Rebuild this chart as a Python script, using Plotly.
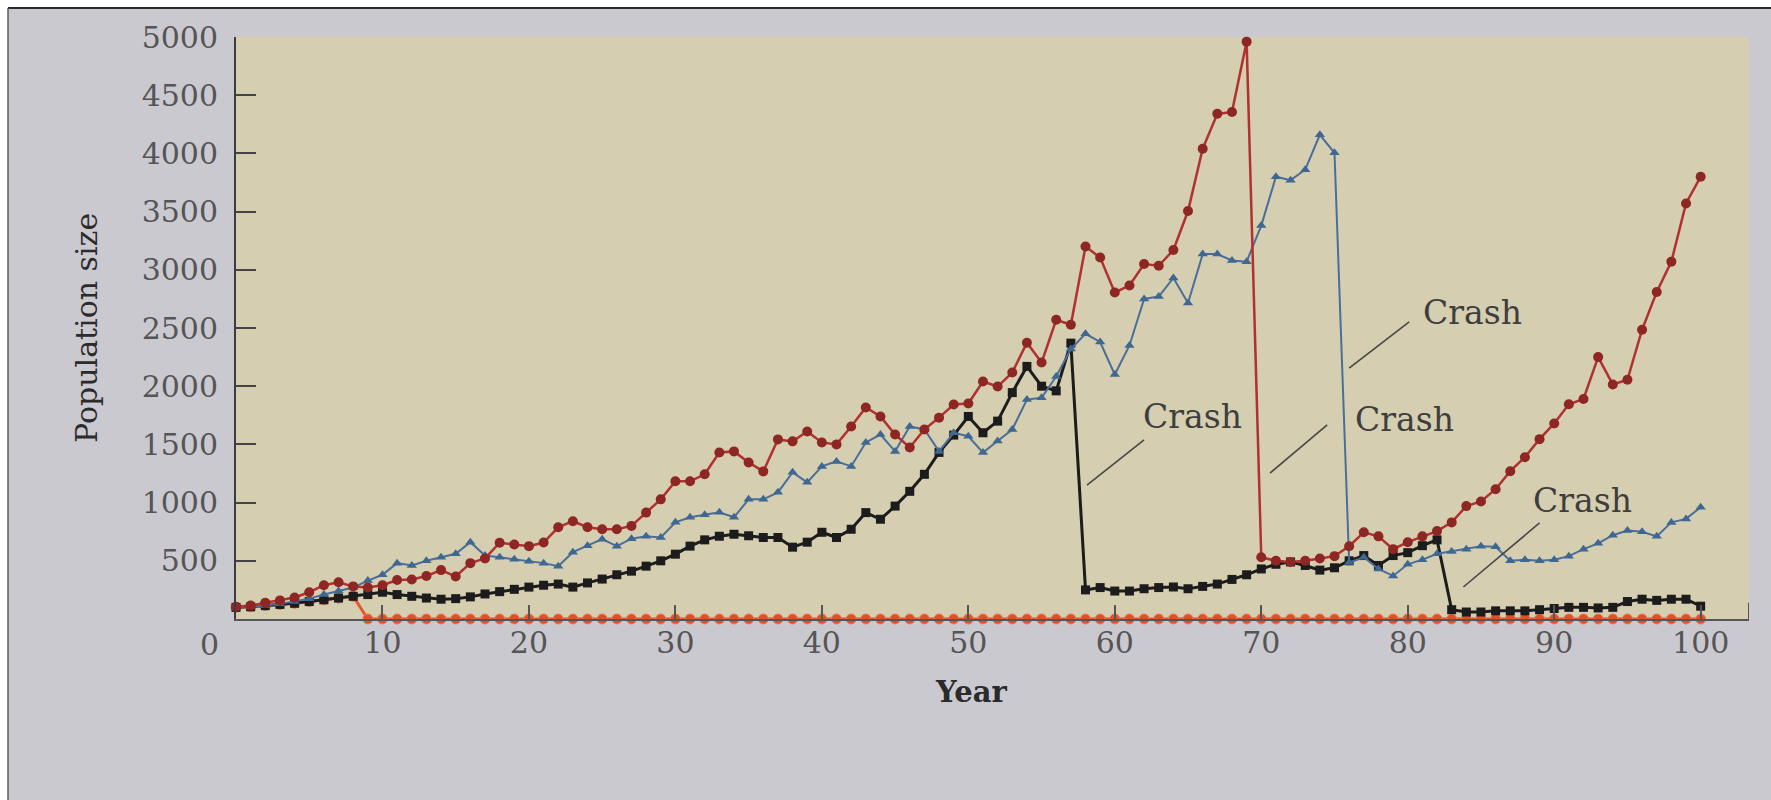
import plotly.graph_objects as go

# Simulated population trajectories over 100 years
years = list(range(101))

pop_red = [105, 115, 140, 160, 185, 230, 290, 315, 280, 270,
           290, 335, 340, 370, 420, 365, 480, 520, 655, 640,
           626, 657, 788, 840, 788, 771, 771, 800, 914, 1028,
           1183, 1183, 1243, 1431, 1440, 1345, 1268, 1543, 1526, 1611,
           1517, 1500, 1654, 1817, 1740, 1585, 1474, 1628, 1730, 1843,
           1851, 2040, 1997, 2117, 2374, 2203, 2571, 2528, 3200, 3105,
           2805, 2865, 3050, 3035, 3170, 3505, 4040, 4340, 4355, 4960,
           530, 500, 490, 500, 520, 540, 625, 745, 710, 600,
           660, 710, 755, 830, 970, 1010, 1115, 1270, 1390, 1545,
           1680, 1845, 1890, 2250, 2015, 2055, 2485, 2810, 3070, 3570,
           3800]

pop_blue = [100, 105, 115, 130, 150, 175, 210, 240, 270, 330,
            380, 480, 460, 500, 530, 560, 660, 545, 530, 514,
            497, 480, 454, 574, 630, 686, 626, 690, 711, 700,
            831, 874, 895, 917, 874, 1028, 1028, 1088, 1260, 1174,
            1311, 1354, 1311, 1517, 1585, 1440, 1654, 1628, 1440, 1600,
            1570, 1430, 1530, 1628, 1885, 1900, 2083, 2320, 2450, 2380,
            2100, 2350, 2750, 2770, 2930, 2715, 3135, 3135, 3080, 3070,
            3380, 3800, 3770, 3860, 4160, 4005, 485, 530, 430, 370,
            470, 510, 560, 580, 600, 625, 620, 500, 510, 500,
            510, 540, 600, 650, 720, 760, 750, 710, 830, 860,
            960]

pop_black = [100, 105, 115, 125, 135, 150, 165, 180, 195, 210,
             230, 210, 195, 180, 170, 175, 190, 215, 235, 255,
             274, 290, 300, 274, 310, 343, 380, 411, 454, 500,
             557, 626, 680, 711, 728, 715, 700, 700, 617, 660,
             745, 700, 771, 914, 857, 970, 1097, 1243, 1431, 1580,
             1740, 1600, 1700, 1945, 2170, 2000, 1960, 2370, 250, 270,
             240, 240, 260, 270, 275, 260, 280, 300, 340, 380,
             430, 470, 490, 460, 420, 440, 500, 545, 460, 545,
             570, 630, 680, 80, 60, 60, 70, 70, 70, 80,
             90, 100, 100, 95, 100, 150, 170, 160, 170, 170,
             110]

pop_orange = [100, 105, 115, 125, 135, 150, 165, 180, 195, 0,
              0, 0, 0, 0, 0, 0, 0, 0, 0, 0,
              0, 0, 0, 0, 0, 0, 0, 0, 0, 0,
              0, 0, 0, 0, 0, 0, 0, 0, 0, 0,
              0, 0, 0, 0, 0, 0, 0, 0, 0, 0,
              0, 0, 0, 0, 0, 0, 0, 0, 0, 0,
              0, 0, 0, 0, 0, 0, 0, 0, 0, 0,
              0, 0, 0, 0, 0, 0, 0, 0, 0, 0,
              0, 0, 0, 0, 0, 0, 0, 0, 0, 0,
              0, 0, 0, 0, 0, 0, 0, 0, 0, 0,
              0]

x_ticks = [10, 20, 30, 40, 50, 60, 70, 80, 90, 100]
y_ticks = [500, 1000, 1500, 2000, 2500, 3000, 3500, 4000, 4500, 5000]

# "Crash" callouts: text position (year, size) and leader line ends
crash_text = [(65.3, 1744), (79.8, 1710), (84.4, 2637), (91.9, 1022)]
crash_lines = [((58.1, 1151), (62.0, 1538)),
               ((70.6, 1254), (74.5, 1667)),
               ((76.0, 2156), (80.1, 2552)),
               ((83.8, 275), (89.0, 825))]

SERIF = "DejaVu Serif"
W, H = 1771, 800
ML, MR, MT, MB = 236, 22, 37, 181
PW, PH = W - ML - MR, H - MT - MB


def px(xpix):
    return (xpix - ML) / PW


def py(ypix):
    return (H - MB - ypix) / PH


fig = go.Figure()

fig.add_trace(go.Scatter(
    x=years, y=pop_orange, mode="lines+markers", cliponaxis=False,
    line=dict(color="#e2572d", width=3),
    marker=dict(symbol="circle", size=10, color="#e04e2a",
                line=dict(color="#ea7a55", width=1)),
    showlegend=False))

fig.add_trace(go.Scatter(
    x=years, y=pop_black, mode="lines+markers", cliponaxis=False,
    line=dict(color="#1c1c1c", width=3),
    marker=dict(symbol="square", size=9, color="#1c1c1c"),
    showlegend=False))

fig.add_trace(go.Scatter(
    x=years, y=pop_blue, mode="lines+markers", cliponaxis=False,
    line=dict(color="#4a6e98", width=2),
    marker=dict(symbol="triangle-up", size=9, color="#3e6892"),
    showlegend=False))

fig.add_trace(go.Scatter(
    x=years, y=pop_red, mode="lines+markers", cliponaxis=False,
    line=dict(color="#b0312d", width=2.5),
    marker=dict(symbol="circle", size=10, color="#8e2623"),
    showlegend=False))

shapes = []
for (a, b) in crash_lines:
    shapes.append(dict(type="line", xref="x", yref="y",
                       x0=a[0], y0=a[1], x1=b[0], y1=b[1],
                       line=dict(color="#474747", width=1.6)))

# end cap of the year axis
shapes.append(dict(type="line", xref="x", yref="y", x0=103.3, x1=103.3,
                   y0=0, y1=140, line=dict(color="#555555", width=2)))

# page frame: white edge strips and dark rule lines
shapes += [
    dict(type="rect", xref="paper", yref="paper", x0=px(0), x1=px(W),
         y0=py(8), y1=py(0), fillcolor="white", line=dict(width=0), layer="above"),
    dict(type="rect", xref="paper", yref="paper", x0=px(0), x1=px(8),
         y0=py(H), y1=py(0), fillcolor="white", line=dict(width=0), layer="above"),
    dict(type="line", xref="paper", yref="paper", x0=px(8), x1=px(W),
         y0=py(8), y1=py(8), line=dict(color="#2b2b2b", width=2)),
    dict(type="line", xref="paper", yref="paper", x0=px(8), x1=px(8),
         y0=py(8), y1=py(H), line=dict(color="#5a5a5a", width=1.5)),
]

annotations = []
for (cx, cy) in crash_text:
    annotations.append(dict(x=cx, y=cy, xref="x", yref="y", text="Crash",
                            showarrow=False, xanchor="center", yanchor="middle",
                            font=dict(family=SERIF, size=33, color="#3e3e3e")))

# shared origin label
annotations.append(dict(x=0, y=0, xref="x", yref="y", text="0", showarrow=False,
                        xanchor="center", yanchor="middle",
                        xshift=-27, yshift=-25,
                        font=dict(family=SERIF, size=30, color="#555555")))

annotations.append(dict(x=px(971), y=py(692), xref="paper", yref="paper",
                        text="<b>Year</b>", showarrow=False,
                        xanchor="center", yanchor="middle",
                        font=dict(family=SERIF, size=29, color="#2b2b2b")))
annotations.append(dict(x=px(86), y=py(328), xref="paper", yref="paper",
                        text="Population size", showarrow=False, textangle=-90,
                        xanchor="center", yanchor="middle",
                        font=dict(family=SERIF, size=30, color="#2b2b2b")))

fig.update_layout(
    width=W, height=H, autosize=False,
    margin=dict(l=ML, r=MR, t=MT, b=MB),
    paper_bgcolor="#cbc9d0",
    plot_bgcolor="#d5ceb1",
    shapes=shapes,
    annotations=annotations,
    xaxis=dict(range=[0, 103.3], tickvals=x_ticks, ticks="inside", ticklen=14,
               tickwidth=2, tickcolor="#555555", showline=True,
               linecolor="#555555", linewidth=2, showgrid=False, zeroline=False,
               ticklabelstandoff=-4,
               tickfont=dict(family=SERIF, size=30, color="#555555")),
    yaxis=dict(range=[0, 5000], tickvals=y_ticks, ticks="inside", ticklen=20,
               tickwidth=2, tickcolor="#444444", showline=True,
               linecolor="#3c3c3c", linewidth=2, showgrid=False, zeroline=False,
               ticklabelstandoff=10,
               tickfont=dict(family=SERIF, size=30, color="#555555")),
)

fig.write_html("out.html")
